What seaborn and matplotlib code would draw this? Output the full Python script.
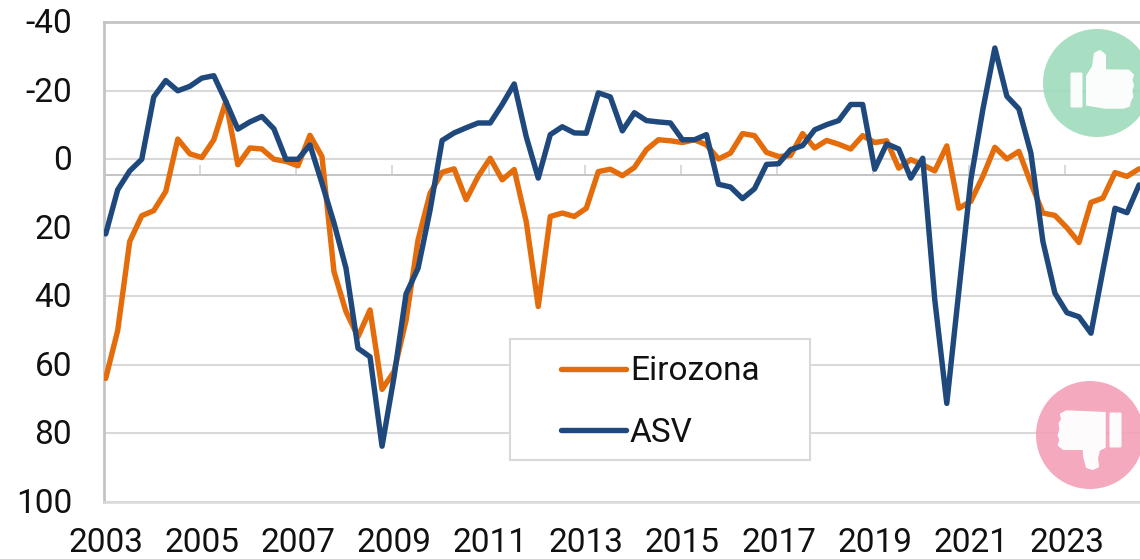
"""Consumer confidence style chart: euro area vs USA, inverted scale."""

import pandas as pd
import seaborn as sns
import matplotlib.pyplot as plt
from matplotlib.patches import Circle, FancyBboxPatch, Polygon, Rectangle
from matplotlib.transforms import ScaledTranslation

YEAR_LABELS = ['2003', '2005', '2007', '2009', '2011', '2013', '2015', '2017', '2019', '2021', '2023']
Y_TICKS = [-40, -20, 0, 20, 40, 60, 80, 100]
Y_LABELS = ['-40', '-20', '0', '20', '40', '60', '80', '100']

EIROZONA = [
    64, 50, 24, 16.5, 15, 9.4, -5.9, -1.6, -0.5, -5.7, -16.9, 1.6, -3.3, -3, 0, 0.6, 1.9, -7, -0.8, 32.8,
    44.5, 51.8, 44, 67.2, 62, 47, 23.5, 9.9, 3.8, 2.8, 11.8, 5, -0.3, 6, 3, 18.2, 43, 16.7, 15.7, 16.7,
    14.3, 3.6, 2.9, 4.8, 2.4, -2.8, -5.7, -5.4, -4.9, -5.7, -4.2, -0.1, -1.8, -7.5, -6.9, -2, -0.8, -1.1,
    -7.5, -3.3, -5.5, -4.4, -3, -6.9, -4.9, -5.4, 2.6, 0.1, 1.6, 3.4, -3.9, 14.3, 12.3, 5, -3.5, -0.1,
    -2.3, 7, 15.7, 16.4, 20, 24.3, 12.6, 11.3, 3.9, 5, 2.8,
]
ASV = [
    21.8, 8.9, 3.4, 0, -18.2, -23, -20, -21.3, -23.7, -24.4, -16.9, -8.8, -10.9, -12.5, -8.9, 0, 0, -4.2,
    7, 18.6, 31.8, 55.2, 57.7, 83.8, 63.5, 39.3, 31.8, 14.8, -5.5, -7.7, -9.2, -10.6, -10.6, -16, -22,
    -6.6, 5.5, -7.2, -9.5, -7.7, -7.6, -19.4, -18.2, -8.3, -13.6, -11.3, -10.9, -10.6, -5.7, -5.7, -7.2,
    7.3, 8.1, 11.5, 8.6, 1.5, 1.3, -2.8, -4, -8.6, -10.1, -11.3, -16, -16, 2.9, -4.5, -3, 5.5, -0.3, 41,
    71.3, 38.6, 6, -14.5, -32.5, -18.4, -14.7, -1.8, 24, 39.1, 44.8, 46, 50.8, 32.3, 14.3, 15.6, 7.5,
]

W, H = 1140, 559
GRID = '#d9d9d9'
AXIS = '#c4c4c4'


def px_poly(points, x0, y0):
    return [(x0 + x / 3, y0 + y / 3) for x, y in points]


def draw_icons(fig):
    """Draw the thumb badges on a transparent overlay in pixel coordinates."""
    over = fig.add_axes([0, 0, 1, 1], zorder=5)
    over.set_xlim(0, W)
    over.set_ylim(H, 0)
    over.axis('off')
    over.patch.set_alpha(0)

    over.add_patch(Circle((1097, 83), 54, fc='#9bdab8', ec='none', alpha=0.87))
    over.add_patch(FancyBboxPatch((1072, 74), 9, 32, boxstyle='round,pad=1.5', fc='white', ec='none', alpha=0.97))
    thumb_up = [(170, 168), (188, 140), (194, 100), (210, 92), (226, 105), (226, 150), (296, 151), (310, 165),
                (305, 180), (310, 195), (305, 212), (308, 230), (300, 245), (298, 258), (280, 264), (225, 264),
                (170, 255)]
    over.add_patch(Polygon(px_poly(thumb_up, 1030, 20), fc='white', ec='white', lw=1, joinstyle='round', alpha=0.97))

    over.add_patch(Circle((1090, 435), 54, fc='#f4a0b8', ec='none', alpha=0.9))
    over.add_patch(FancyBboxPatch((1111, 414), 9, 32, boxstyle='round,pad=1.5', fc='white', ec='none', alpha=0.97))
    thumb_down = [(255, 128), (255, 232), (238, 240), (232, 265), (235, 290), (218, 298), (200, 292), (192, 262),
                  (190, 238), (130, 238), (115, 225), (120, 210), (115, 195), (120, 180), (118, 160), (125, 148),
                  (122, 132), (140, 123)]
    over.add_patch(Polygon(px_poly(thumb_down, 1020, 370), fc='white', ec='white', lw=1, joinstyle='round', alpha=0.97))


sns.set_theme(style="white")
plt.rcParams['font.family'] = ['Roboto', 'DejaVu Sans']

quarters = [2003 + i / 4 for i in range(len(ASV))]
data = pd.DataFrame({'year': quarters, 'Eirozona': EIROZONA, 'ASV': ASV})

fig = plt.figure(figsize=(W / 100, H / 100), dpi=100, facecolor='white')
ax = fig.add_axes([104 / W, 1 - 501.7 / H, 1 - 104 / W, (501.7 - 22.3) / H])

line_kw = {'lw': 3.9, 'solid_capstyle': 'round', 'solid_joinstyle': 'round', 'zorder': 3}
sns.lineplot(data=data, x='year', y='Eirozona', color='#e46c0a', label='Eirozona', ax=ax, **line_kw)
sns.lineplot(data=data, x='year', y='ASV', color='#1f497d', label='ASV', ax=ax, **line_kw)

ax.set_xlim(2003 - 0.14 / 4, 2003 + 86.08 / 4)
ax.set_ylim(100, -40)
ax.set_xlabel('')
ax.set_ylabel('')

year_values = [int(y) for y in YEAR_LABELS]
ax.set_xticks(year_values, YEAR_LABELS)
ax.set_yticks(Y_TICKS, Y_LABELS)
ax.tick_params(axis='x', length=0, pad=18, labelsize=24, labelcolor='#111111')
ax.tick_params(axis='y', length=8, width=1.5, color=GRID, pad=15, labelsize=24, labelcolor='#111111')
ax.grid(axis='y', color=GRID, lw=1.5, zorder=1)
ax.set_axisbelow(True)

# y labels sit a touch higher than matplotlib centres them
for label in ax.get_yticklabels():
    label.set_transform(label.get_transform() + ScaledTranslation(0, 1.5 / 100, fig.dpi_scale_trans))

ax.spines['right'].set_visible(False)
ax.spines['left'].set(color=AXIS, lw=2)
ax.spines['top'].set(color=AXIS, lw=2)
ax.spines['bottom'].set(color=GRID, lw=1.8)

# the real x axis crosses the scale near 5, the labels stay at the bottom
cross = ax.secondary_xaxis((100 - 4.7) / 140)
cross.set_xticks([y - 0.035 for y in year_values[1:]], [''] * (len(year_values) - 1))
cross.tick_params(axis='x', direction='out', length=7.2, width=1.4, color=GRID, pad=0)
cross.spines['bottom'].set(color=AXIS, lw=1.4)
cross.spines['top'].set(color=AXIS, lw=1.4)

# legend frame is wider than the entries, so it is its own box
ax.add_patch(Rectangle((510 / W, 1 - 460 / H), 300 / W, 121 / H, transform=fig.transFigure, fc='white',
                       ec=GRID, lw=1.5, zorder=3.5, clip_on=False))
handles, labels = ax.get_legend_handles_labels()
leg = ax.legend(handles, labels, loc='upper left',
                bbox_to_anchor=((560.5 - 104) / (W - 104), (501.7 - 355.5) / (501.7 - 22.3)),
                borderaxespad=0, fontsize=24, frameon=False,
                handlelength=1.95, handletextpad=0.135, labelspacing=0.88, borderpad=0)
leg.set_zorder(4)
for text in leg.get_texts():
    text.set_color('#111111')

draw_icons(fig)

fig.savefig('out.png', dpi=100)
